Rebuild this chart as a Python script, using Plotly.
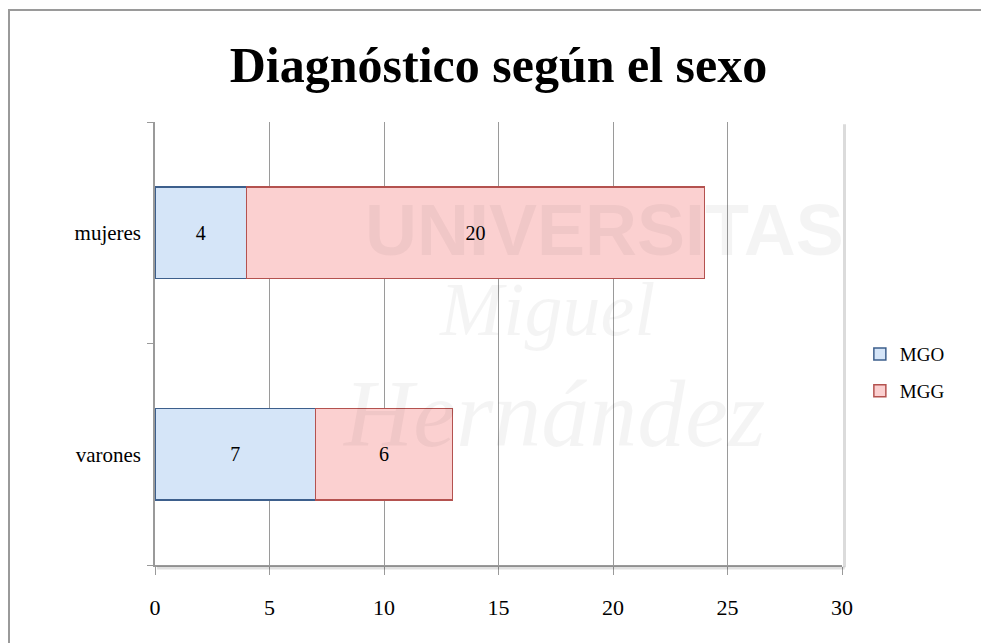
import plotly.graph_objects as go

categories = ["varones", "mujeres"]
mgo_values = [7, 4]
mgg_values = [6, 20]
series_names = ["MGO", "MGG"]
x_ticks = [0, 5, 10, 15, 20, 25, 30]
title_text = "Diagnóstico según el sexo"

FONT = "Liberation Serif"

# page body has an 8px margin in the viewer; compensate
L, T, PW, PH = 147, 114, 687, 443
W, H = 989, 643

fig = go.Figure()
fig.add_trace(go.Bar(
    y=categories, x=mgo_values, name=series_names[0], orientation="h",
    marker=dict(color="#d5e5f8", line=dict(color="#3d5f8c", width=1.5)),
    text=mgo_values, textposition="inside", insidetextanchor="middle",
    textfont=dict(family=FONT, size=20, color="black"),
    legendgroup="a",
))
fig.add_trace(go.Bar(
    y=categories, x=mgg_values, name=series_names[1], orientation="h",
    marker=dict(color="#fbd0d0", line=dict(color="#b4524f", width=1.5)),
    text=mgg_values, textposition="inside", insidetextanchor="middle",
    textfont=dict(family=FONT, size=20, color="black"),
    legendgroup="b",
))

# faint watermark
wm = [
    dict(text="<b>UNIVERSITAS</b>", x=0.655, y=0.756, size=72, fam="Liberation Sans"),
    dict(text="<i>Miguel</i>", x=0.57, y=0.578, size=76, fam=FONT),
    dict(text="<i>Hernández</i>", x=0.58, y=0.343, size=96, fam=FONT),
]
for w in wm:
    fig.add_annotation(text=w["text"], x=w["x"], y=w["y"], xref="paper", yref="paper",
                       xanchor="center", yanchor="middle",
                       showarrow=False, font=dict(family=w["fam"], size=w["size"],
                                                  color="rgba(0,0,0,0.045)"))

shapes = [
    dict(type="rect", xref="paper", yref="paper",
         x0=(1 - L) / PW, x1=1.4, y0=-0.3, y1=1 + (T - 2) / PH,
         line=dict(color="#9a9a9a", width=2), layer="below"),
    # soft shadows along the bottom and right of the plot area
    dict(type="line", xref="paper", yref="paper", x0=0.003, x1=1.004,
         y0=-3 / PH, y1=-3 / PH, line=dict(color="rgba(0,0,0,0.12)", width=3)),
    dict(type="line", xref="paper", yref="paper", x0=1 + 2.5 / PW, x1=1 + 2.5 / PW,
         y0=-0.005, y1=0.995, line=dict(color="rgba(0,0,0,0.14)", width=3)),
]

fig.update_layout(
    width=W, height=H,
    barmode="stack", bargap=0.585,
    paper_bgcolor="white", plot_bgcolor="white",
    margin=dict(l=L, r=W - L - PW, t=T, b=H - T - PH, autoexpand=False),
    title=dict(text="<b>%s</b>" % title_text, x=0.5, xanchor="center", xref="paper",
               y=1 - 56 / H, yanchor="middle",
               font=dict(family=FONT, size=50, color="black")),
    font=dict(family=FONT, size=18, color="black"),
    legend=dict(x=1.026, y=0.519, xanchor="left", yanchor="top",
                font=dict(family=FONT, size=19), traceorder="grouped",
                tracegroupgap=9, bgcolor="rgba(0,0,0,0)"),
    showlegend=True,
    shapes=shapes,
)
fig.update_xaxes(
    range=[0, 30], tickvals=x_ticks, showgrid=True, gridcolor="#9a9a9a", gridwidth=1,
    showline=True, linecolor="#9a9a9a", linewidth=1.5,
    ticks="outside", ticklen=8, tickcolor="#9a9a9a", ticklabelstandoff=14,
    tickfont=dict(family=FONT, size=22), zeroline=False,
)
fig.update_yaxes(
    categoryorder="array", categoryarray=categories,
    showline=True, linecolor="#9a9a9a", linewidth=1.5,
    ticks="outside", ticklen=6, tickcolor="#9a9a9a", tickson="boundaries",
    ticklabelstandoff=8, tickfont=dict(family=FONT, size=21), showgrid=False,
)

fig.write_html("out.html")
